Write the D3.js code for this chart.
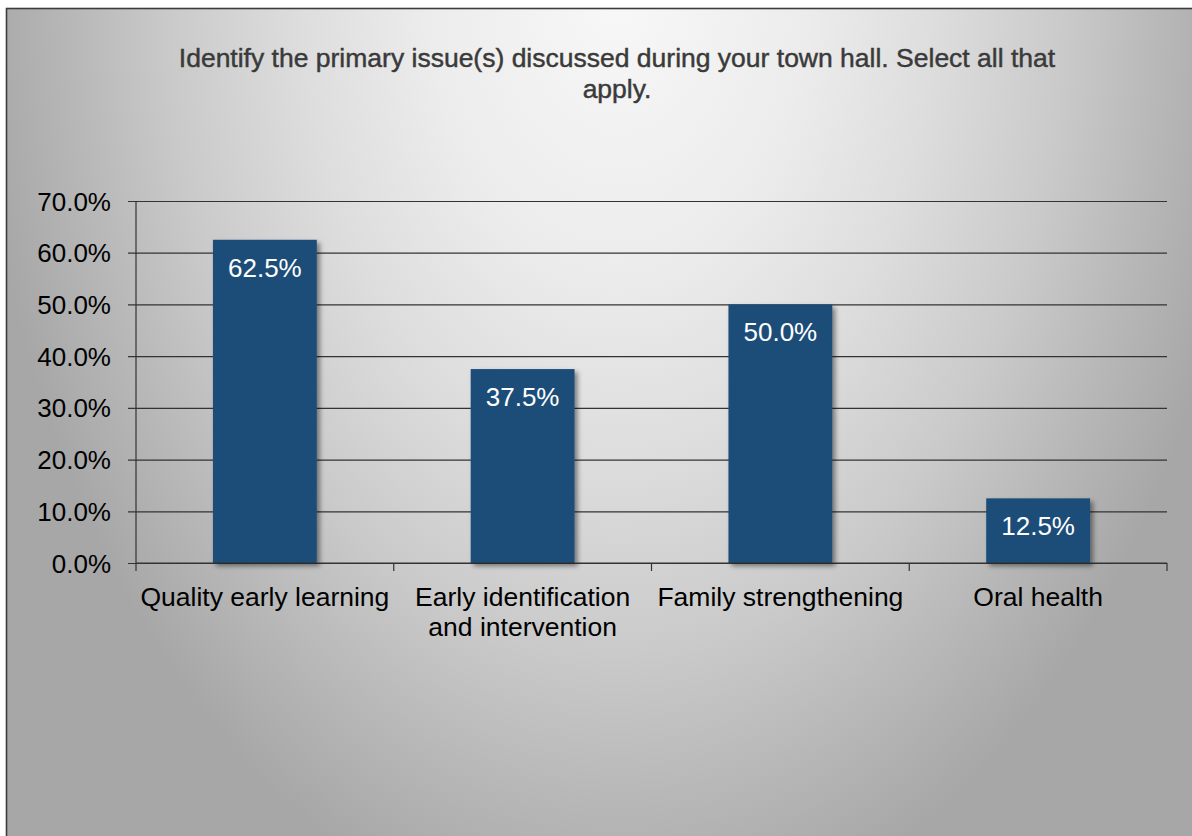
<!DOCTYPE html>
<html>
<head>
<meta charset="utf-8">
<script src="https://cdn.jsdelivr.net/npm/d3@7"></script>
<style>
  html, body { margin: 0; padding: 0; background: #ffffff; }
  svg { display: block; }
  text { font-family: "Liberation Sans", Arial, sans-serif; }
</style>
</head>
<body>
<svg id="chart" width="1192" height="836"></svg>
<script>
// Survey question and answer shares
const titleLines = [
  "Identify the primary issue(s) discussed during your town hall. Select all that",
  "apply."
];
const categories = [
  "Quality early learning",
  "Early identification and intervention",
  "Family strengthening",
  "Oral health"
];
const shares = [0.625, 0.375, 0.50, 0.125];
const yTicks = [0, 0.1, 0.2, 0.3, 0.4, 0.5, 0.6, 0.7];

const W = 1192, H = 836;
const plot = { left: 136, right: 1167, top: 201, bottom: 563 };

const svg = d3.select("#chart");
const defs = svg.append("defs");

// Light spot at top centre fading to grey toward the edges
const grad = defs.append("radialGradient")
  .attr("id", "bg")
  .attr("gradientUnits", "userSpaceOnUse")
  .attr("cx", 617).attr("cy", -20).attr("r", 640)
  .attr("gradientTransform", "translate(617,-20) scale(1,1.5) translate(-617,20)");
[[0, "#f8f8f8"], [0.3, "#ececec"], [0.5, "#dddddd"], [0.7, "#cacaca"], [0.85, "#b8b8b8"], [1, "#a7a7a7"]]
  .forEach(([o, c]) => grad.append("stop").attr("offset", o).attr("stop-color", c));

const shadow = defs.append("filter").attr("id", "shadow")
  .attr("x", "-20%").attr("y", "-20%").attr("width", "150%").attr("height", "150%");
shadow.append("feDropShadow")
  .attr("dx", 3).attr("dy", 3).attr("stdDeviation", 2.5)
  .attr("flood-color", "#000").attr("flood-opacity", 0.45);

// Frame
svg.append("rect")
  .attr("x", 6.5).attr("y", 8.5)
  .attr("width", 1240).attr("height", 900)
  .attr("fill", "url(#bg)")
  .attr("stroke", "#3c3c3c").attr("stroke-width", 1.6);

// Title
svg.append("g").selectAll("text")
  .data(titleLines)
  .join("text")
  .attr("x", 617)
  .attr("y", (d, i) => 67 + i * 31)
  .attr("text-anchor", "middle")
  .attr("font-size", "26.5px")
  .attr("fill", "#3a3a3a")
  .attr("stroke", "#3a3a3a").attr("stroke-width", 0.45)
  .text(d => d);

// Scales
const slot = d3.scaleBand().domain(categories).range([plot.left, plot.right]).padding(0);
const barFrac = 0.403;
const y = d3.scaleLinear().domain([0, 0.7]).range([plot.bottom, plot.top]);

// Gridlines and y axis
const yAxis = d3.axisLeft(y)
  .tickValues(yTicks)
  .tickFormat(d3.format(".1%"))
  .tickSize(-(plot.right - plot.left))
  .tickPadding(0);
const gy = svg.append("g").attr("transform", `translate(${plot.left},0)`).call(yAxis);
gy.select(".domain").remove();
gy.selectAll(".tick line")
  .attr("x1", -8)
  .attr("stroke", "#333").attr("stroke-width", 1.2);
gy.selectAll(".tick text")
  .attr("x", -25)
  .attr("dy", "0.35em")
  .attr("font-size", "26px")
  .attr("fill", "#000");

// Vertical axis line
svg.append("line")
  .attr("x1", plot.left).attr("x2", plot.left)
  .attr("y1", plot.top).attr("y2", plot.bottom)
  .attr("stroke", "#333").attr("stroke-width", 1.2);

// Bars
const bw = slot.bandwidth() * barFrac;
svg.append("g").selectAll("rect")
  .data(categories.map((c, i) => ({ c, v: shares[i] })))
  .join("rect")
  .attr("x", d => slot(d.c) + (slot.bandwidth() - bw) / 2)
  .attr("y", d => y(d.v))
  .attr("width", bw)
  .attr("height", d => y(0) - y(d.v))
  .attr("fill", "#1f4e79")
  .attr("filter", "url(#shadow)");

// Category axis with ticks at slot boundaries
const bounds = categories.map(c => slot(c)).concat([plot.right]);
svg.append("line")
  .attr("x1", plot.left).attr("x2", plot.right)
  .attr("y1", plot.bottom).attr("y2", plot.bottom)
  .attr("stroke", "#333").attr("stroke-width", 1.2);
svg.append("g").selectAll("line")
  .data(bounds)
  .join("line")
  .attr("x1", d => d).attr("x2", d => d)
  .attr("y1", plot.bottom).attr("y2", plot.bottom + 8)
  .attr("stroke", "#333").attr("stroke-width", 1.2);

// Value labels inside bars
svg.append("g").selectAll("text")
  .data(categories.map((c, i) => ({ c, v: shares[i] })))
  .join("text")
  .attr("x", d => slot(d.c) + slot.bandwidth() / 2)
  .attr("y", d => y(d.v) + 37)
  .attr("text-anchor", "middle")
  .attr("font-size", "26px")
  .attr("fill", "#ffffff")
  .text(d => d3.format(".1%")(d.v));

// Category labels, wrapped to the slot width
const catG = svg.append("g");
categories.forEach(c => {
  const t = catG.append("text")
    .attr("x", slot(c) + slot.bandwidth() / 2)
    .attr("y", 606)
    .attr("text-anchor", "middle")
    .attr("font-size", "26.5px")
    .attr("fill", "#000");
  const words = c.split(" ");
  let line = [];
  let tspan = t.append("tspan").attr("x", slot(c) + slot.bandwidth() / 2).attr("dy", 0);
  words.forEach(w => {
    line.push(w);
    tspan.text(line.join(" "));
    if (tspan.node().getComputedTextLength() > slot.bandwidth() - 4 && line.length > 1) {
      line.pop();
      tspan.text(line.join(" "));
      line = [w];
      tspan = t.append("tspan")
        .attr("x", slot(c) + slot.bandwidth() / 2)
        .attr("dy", 30)
        .text(w);
    }
  });
});
</script>
</body>
</html>
